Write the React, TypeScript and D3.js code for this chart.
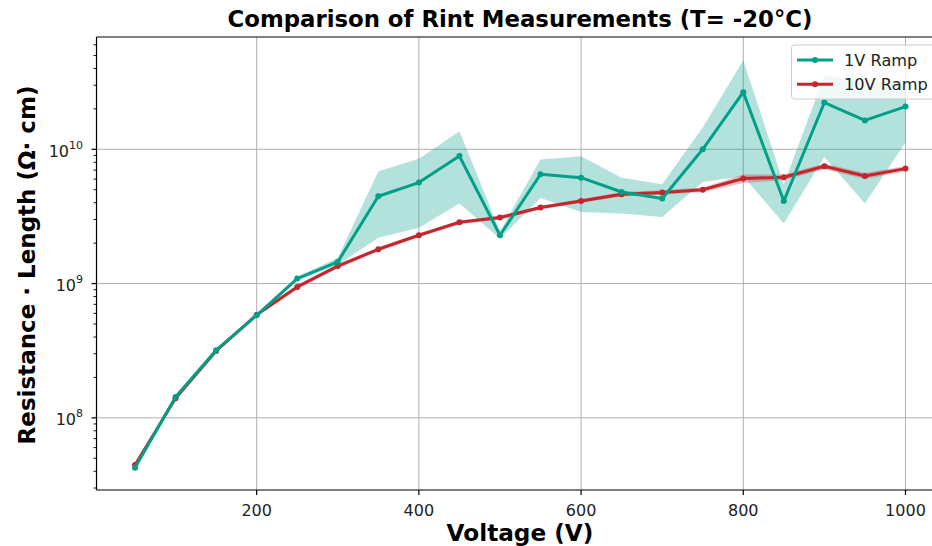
import React from "react";
import * as d3 from "d3";

// Voltage steps (V)
const voltages = [50, 100, 150, 200, 250, 300, 350, 400, 450, 500, 550, 600, 650, 700, 750, 800, 850, 900, 950, 1000];

// 1V ramp: mean Rint·L and its spread (Ω·cm)
const ramp1Mean = [4.24e7, 1.43e8, 3.19e8, 5.8e8, 1.09e9, 1.45e9, 4.47e9, 5.65e9, 8.9e9, 2.29e9, 6.52e9, 6.15e9, 4.81e9, 4.3e9, 1.0e10, 2.66e10, 4.12e9, 2.23e10, 1.64e10, 2.08e10];
const ramp1Low = [4.1e7, 1.39e8, 3.1e8, 5.65e8, 1.05e9, 1.38e9, 2.19e9, 2.6e9, 3.94e9, 2.16e9, 4.33e9, 3.41e9, 3.32e9, 3.13e9, 5.7e9, 6.3e9, 2.8e9, 8.77e9, 3.94e9, 1.13e10];
const ramp1High = [4.4e7, 1.47e8, 3.28e8, 5.95e8, 1.13e9, 1.55e9, 6.85e9, 8.5e9, 1.36e10, 2.45e9, 8.4e9, 8.87e9, 6.15e9, 5.5e9, 1.45e10, 4.6e10, 5.5e9, 3.55e10, 3.2e10, 3.1e10];

// 10V ramp: mean Rint·L and its spread (Ω·cm)
const ramp10Mean = [4.45e7, 1.4e8, 3.15e8, 5.85e8, 9.44e8, 1.35e9, 1.8e9, 2.29e9, 2.86e9, 3.1e9, 3.68e9, 4.12e9, 4.62e9, 4.76e9, 5.0e9, 6.06e9, 6.19e9, 7.47e9, 6.33e9, 7.18e9];
const ramp10Low = [4.3e7, 1.36e8, 3.06e8, 5.7e8, 9.1e8, 1.3e9, 1.74e9, 2.22e9, 2.77e9, 3.0e9, 3.56e9, 3.98e9, 4.45e9, 4.58e9, 4.8e9, 5.6e9, 5.9e9, 7.1e9, 6.0e9, 6.85e9];
const ramp10High = [4.6e7, 1.44e8, 3.24e8, 6.0e8, 9.8e8, 1.4e9, 1.86e9, 2.36e9, 2.95e9, 3.2e9, 3.8e9, 4.26e9, 4.8e9, 4.95e9, 5.2e9, 6.5e9, 6.5e9, 7.85e9, 6.65e9, 7.5e9];

const xTicks = [200, 400, 600, 800, 1000];
const yMajorExps = [8, 9, 10];

const seriesNames = ["1V Ramp", "10V Ramp"];
const TEAL = "#00a088";
const RED = "#c4262e";

const FONT = "DejaVu Sans, sans-serif";

export default function App() {
  const width = 932;
  const height = 546;
  const left = 96.5;
  const bottom = 490;
  const top = 37;
  const right = 944;

  const x = d3.scaleLinear().domain([2.5, 1047.5]).range([left, right]);
  const y = d3.scaleLog().domain([2.9e7, 6.86e10]).range([bottom, top]);

  const line = d3
    .line<number>()
    .x((_, i) => x(voltages[i]))
    .y((d) => y(d));

  const band = (lo: number[], hi: number[]) =>
    d3
      .area<number>()
      .x((v) => x(v))
      .y0((_, i) => y(lo[i]))
      .y1((_, i) => y(hi[i]))(voltages) as string;

  // minor log ticks
  const [d0, d1] = y.domain();
  const minor: number[] = [];
  for (let e = Math.floor(Math.log10(d0)); e <= Math.ceil(Math.log10(d1)); e++) {
    for (let m = 2; m <= 9; m++) {
      const v = m * Math.pow(10, e);
      if (v >= d0 && v <= d1) minor.push(v);
    }
  }

  const series = [
    { name: seriesNames[1], mean: ramp10Mean, lo: ramp10Low, hi: ramp10High, color: RED },
    { name: seriesNames[0], mean: ramp1Mean, lo: ramp1Low, hi: ramp1High, color: TEAL },
  ];

  const legendX = 791.5;
  const legendY = 45;

  return (
    <svg
      width={width}
      height={height}
      style={{ position: "absolute", left: 0, top: 0, background: "#fff" }}
      fontFamily={FONT}
    >
      <defs>
        <clipPath id="plotArea">
          <rect x={left} y={top} width={right - left} height={bottom - top} />
        </clipPath>
      </defs>
      <rect x={0} y={0} width={width} height={height} fill="#fff" />

      {/* grid */}
      <g stroke="#b0b0b0" strokeWidth={1}>
        {xTicks.map((t) => (
          <line key={"gx" + t} x1={x(t)} x2={x(t)} y1={top} y2={bottom} />
        ))}
        {yMajorExps.map((e) => (
          <line key={"gy" + e} x1={left} x2={right} y1={y(Math.pow(10, e))} y2={y(Math.pow(10, e))} />
        ))}
      </g>

      {/* shaded spreads */}
      <g clipPath="url(#plotArea)">
        <path d={band(ramp1Low, ramp1High)} fill={TEAL} fillOpacity={0.3} />
        <path d={band(ramp10Low, ramp10High)} fill={RED} fillOpacity={0.3} />
        {series.map((s) => (
          <g key={s.name}>
            <path d={line(s.mean) as string} fill="none" stroke={s.color} strokeWidth={3} strokeLinejoin="round" />
            {s.mean.map((v, i) => (
              <circle key={i} cx={x(voltages[i])} cy={y(v)} r={3} fill={s.color} />
            ))}
          </g>
        ))}
      </g>

      {/* spines */}
      <g stroke="#000" strokeWidth={1.2} fill="none">
        <line x1={left} x2={left} y1={top} y2={bottom} />
        <line x1={left} x2={right} y1={bottom} y2={bottom} />
        <line x1={left} x2={right} y1={top} y2={top} />
        <line x1={right} x2={right} y1={top} y2={bottom} />
      </g>

      {/* x ticks */}
      <g>
        {xTicks.map((t) => (
          <g key={"xt" + t}>
            <line x1={x(t)} x2={x(t)} y1={bottom} y2={bottom + 5} stroke="#000" strokeWidth={1.2} />
            <text x={x(t)} y={515.5} textAnchor="middle" fontSize={16} fill="#222">
              {t}
            </text>
          </g>
        ))}
      </g>

      {/* y ticks */}
      <g>
        {minor.map((v) => (
          <line key={"ym" + v} x1={left - 3} x2={left} y1={y(v)} y2={y(v)} stroke="#000" strokeWidth={0.9} />
        ))}
        {yMajorExps.map((e) => {
          const yy = y(Math.pow(10, e));
          return (
            <g key={"yt" + e}>
              <line x1={left - 5} x2={left} y1={yy} y2={yy} stroke="#000" strokeWidth={1.2} />
              <text x={83} y={yy + 7.5} textAnchor="end" fontSize={16} fill="#222">
                10
                <tspan fontSize={11} dy={-8}>
                  {e}
                </tspan>
              </text>
            </g>
          );
        })}
      </g>

      {/* legend */}
      <g>
        <rect
          x={legendX}
          y={legendY}
          width={right - 7 - legendX}
          height={54}
          rx={3}
          fill="#fff"
          fillOpacity={0.8}
          stroke="#cccccc"
          strokeWidth={1}
        />
        {[
          { name: seriesNames[0], color: TEAL },
          { name: seriesNames[1], color: RED },
        ].map((s, i) => {
          const ly = 60 + i * 24.3;
          return (
            <g key={s.name}>
              <line x1={797} x2={833} y1={ly} y2={ly} stroke={s.color} strokeWidth={3} />
              <circle cx={815} cy={ly} r={3} fill={s.color} />
              <text x={844} y={ly + 5.6} fontSize={16.2} fill="#222">
                {s.name}
              </text>
            </g>
          );
        })}
      </g>

      {/* titles */}
      <text x={520} y={27} textAnchor="middle" fontSize={22.8} fontWeight="bold" fill="#000">
        Comparison of Rint Measurements (T= -20°C)
      </text>
      <text x={520} y={541} textAnchor="middle" fontSize={23.2} fontWeight="bold" fill="#000">
        Voltage (V)
      </text>
      <text
        transform={`translate(35, ${265}) rotate(-90)`}
        textAnchor="middle"
        fontSize={23}
        fontWeight="bold"
        fill="#000"
      >
        Resistance · Length (Ω· cm)
      </text>
    </svg>
  );
}
